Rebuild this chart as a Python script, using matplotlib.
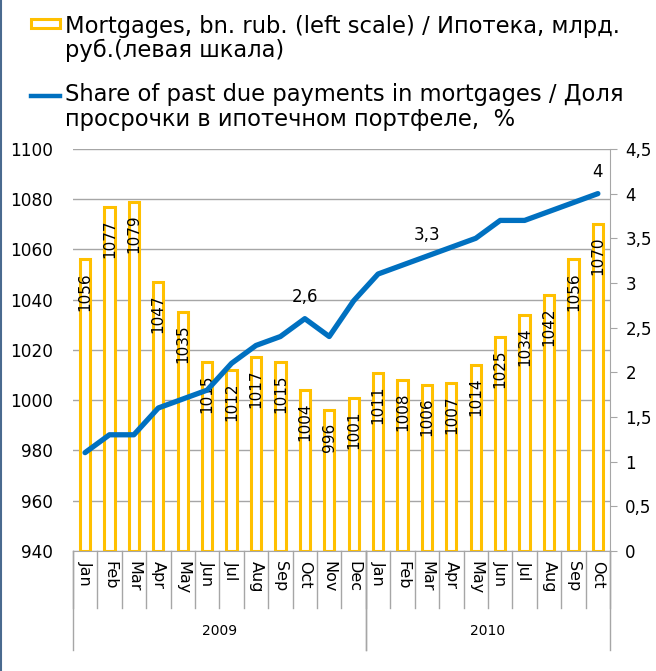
import matplotlib.pyplot as plt
import matplotlib.transforms as mtransforms
from matplotlib.patches import Rectangle
from matplotlib.lines import Line2D
import numpy as np

months = ['Jan', 'Feb', 'Mar', 'Apr', 'May', 'Jun', 'Jul', 'Aug', 'Sep', 'Oct', 'Nov', 'Dec',
          'Jan', 'Feb', 'Mar', 'Apr', 'May', 'Jun', 'Jul', 'Aug', 'Sep', 'Oct']
years = ['2009', '2010']
year_counts = [12, 10]
mortgages = [1056, 1077, 1079, 1047, 1035, 1015, 1012, 1017, 1015, 1004, 996, 1001,
             1011, 1008, 1006, 1007, 1014, 1025, 1034, 1042, 1056, 1070]
past_due = [1.1, 1.3, 1.3, 1.6, 1.7, 1.8, 2.1, 2.3, 2.4, 2.6, 2.4, 2.8,
            3.1, 3.2, 3.3, 3.4, 3.5, 3.7, 3.7, 3.8, 3.9, 4.0]
line_labels = {9: '2,6', 14: '3,3', 21: '4'}
legend_lines = [['Mortgages, bn. rub. (left scale) / Ипотека, млрд.', 'руб.(левая шкала)'],
                ['Share of past due payments in mortgages / Доля', 'просрочки в ипотечном портфеле,  %']]

gold = '#FFC000'
blue = '#0070C0'
grid_c = '#A6A6A6'

plt.rcParams['font.family'] = 'DejaVu Sans'

fig = plt.figure(figsize=(6.56, 6.71), dpi=100)
ax = fig.add_axes([0.111, 0.179, 0.819, 0.599])
x = np.arange(len(months))

ax.bar(x, [m - 940 for m in mortgages], bottom=940, width=0.42, color='white',
       edgecolor=gold, linewidth=2.2, zorder=2)
for xi, m in zip(x, mortgages):
    ax.annotate(str(m), (xi, m), xytext=(0, -9), textcoords='offset points',
                rotation=90, ha='center', va='top', fontsize=11, zorder=5)

ax.set_ylim(940, 1100)
ax.set_yticks(np.arange(940, 1101, 20))
ax.set_xlim(-0.5, len(months) - 0.5)
ax.grid(axis='y', color=grid_c, linewidth=1, zorder=0)
ax.set_axisbelow(True)
ax.tick_params(axis='y', length=0, labelsize=12.2, pad=14)
ax.set_xticks([])
for s in ['left', 'top', 'right']:
    ax.spines[s].set_visible(False)
ax.spines['bottom'].set_color(grid_c)

ax2 = ax.twinx()
ax2.plot(x, past_due, color=blue, linewidth=3.8, solid_capstyle='round',
         solid_joinstyle='round', zorder=4)
for i, t in line_labels.items():
    ax2.annotate(t, (x[i], past_due[i]), xytext=(0, 9), textcoords='offset points',
                 ha='center', va='bottom', fontsize=12)
ax2.set_ylim(0, 4.5)
ax2.set_yticks(np.arange(0, 4.51, 0.5))
ax2.set_yticklabels([('%g' % v).replace('.', ',') for v in np.arange(0, 4.51, 0.5)])
ax2.tick_params(axis='y', length=5, color=grid_c, labelsize=12, pad=6)
for s in ['left', 'top', 'bottom']:
    ax2.spines[s].set_visible(False)
ax2.spines['right'].set_color(grid_c)

# category axis: month labels, separators, year groups
trans = mtransforms.blended_transform_factory(ax.transData, ax.transAxes)
axh = 0.599 * 6.71 * 100
for xi, mname in zip(x, months):
    ax.text(xi, -10 / axh, mname, transform=trans, rotation=270, ha='center', va='top',
            fontsize=11.5)
for b in np.arange(len(months) + 1) - 0.5:
    ax.plot([b, b], [0, -57 / axh], transform=trans, color=grid_c, lw=1, clip_on=False)
start = -0.5
for yname, cnt in zip(years, year_counts):
    end = start + cnt
    ax.plot([start, start], [0, -99 / axh], transform=trans, color=grid_c, lw=1, clip_on=False)
    ax.plot([end, end], [0, -99 / axh], transform=trans, color=grid_c, lw=1, clip_on=False)
    ax.text((start + end) / 2, -80 / axh, yname, transform=trans, ha='center', va='center',
            fontsize=10)
    start = end

# legend
fig.patches.append(Rectangle((31 / 656, 1 - 28 / 671), 29 / 656, 9 / 671,
                             transform=fig.transFigure, facecolor='white',
                             edgecolor=gold, linewidth=2.2))
fig.lines.append(Line2D([31 / 656, 60 / 656], [1 - 96 / 671, 1 - 96 / 671],
                        transform=fig.transFigure, color=blue, linewidth=3.2))
baselines = [[33, 57], [101, 126]]
for lines, bls in zip(legend_lines, baselines):
    for txt, bl in zip(lines, bls):
        fig.text(65 / 656, 1 - bl / 671, txt, ha='left', va='baseline', fontsize=16.3)
fig.lines.append(Line2D([0.0015, 0.0015], [0, 1], transform=fig.transFigure,
                        color='#4A6A8F', linewidth=1.5))

fig.savefig('out.png', dpi=100)
